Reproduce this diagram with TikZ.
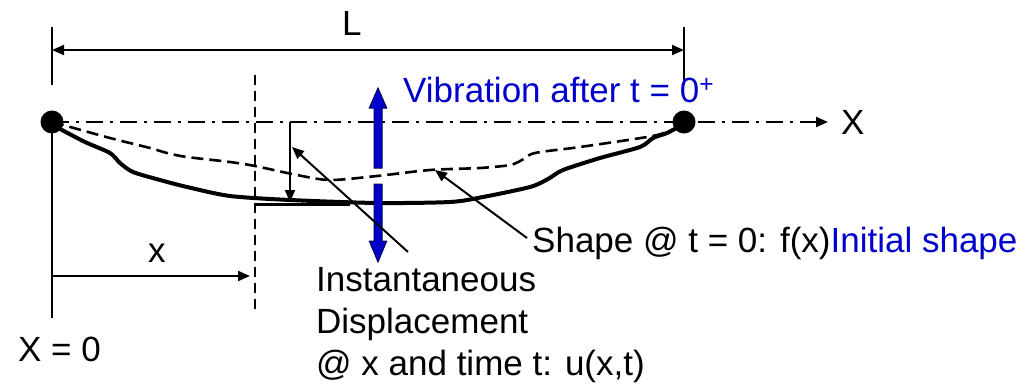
\documentclass[tikz,border=0pt]{standalone}
\usepackage{fontspec}
\setmainfont{Liberation Sans}
\usetikzlibrary{arrows.meta}
\definecolor{vblue}{RGB}{0,0,204}
\definecolor{vnavy}{RGB}{0,0,90}
\begin{document}
\begin{tikzpicture}[x=1pt,y=-1pt,
  lbl/.style={font=\fontsize{35}{42}\selectfont, inner sep=0pt, anchor=base west},
  tipend/.style={-{Triangle[length=12pt,width=10pt]}},
  tipboth/.style={{Triangle[length=12pt,width=10pt]}-{Triangle[length=12pt,width=10pt]}},
  thinline/.style={line width=2pt},
  dashdotline/.style={line width=2.2pt, dash pattern=on 17pt off 7pt on 3pt off 7pt},
  dashline/.style={line width=2.6pt, dash pattern=on 10pt off 6pt},
  curvedash/.style={line width=2.6pt, dash pattern=on 12pt off 6pt},
  solidcurve/.style={line width=4pt, line join=round, line cap=round},
  dotnode/.style={circle, fill=black, minimum size=23pt, inner sep=0pt},
  bluearrow/.style={fill=vblue, draw=vnavy, line width=1pt}]
\useasboundingbox (0,0) rectangle (1036,383);

% named coordinates
\coordinate (A) at (52,122);
\coordinate (B) at (684,122);
\coordinate (Ltop) at (52,27);
\coordinate (Lbot) at (52,85);
\coordinate (Rtop) at (684,27);
\coordinate (Rbot) at (684,85);
\coordinate (LdimL) at (52,50);
\coordinate (LdimR) at (684,50);
\coordinate (Aend) at (52,318);
\coordinate (axisend) at (828,122);
\coordinate (xv1) at (255,75);
\coordinate (xv2) at (255,313);
\coordinate (xd1) at (52,276);
\coordinate (xd2) at (250,276);
\coordinate (u1) at (290,122);
\coordinate (u2) at (290,202);
\coordinate (sh1) at (527,238);
\coordinate (sh2) at (435,170);
\coordinate (in1) at (408,252);
\coordinate (in2) at (292,147);

% dimension L
\draw[thinline] (Ltop) -- (Lbot);
\draw[thinline] (Rtop) -- (Rbot);
\draw[thinline, tipboth] (LdimL) -- (LdimR);
\node[lbl] (Llbl) at (342,35) {L};

% axis
\draw[dashdotline, tipend] (A) -- (axisend);
\node[lbl] (Xlbl) at (841,134) {X};

% left vertical line and x dimension
\draw[thinline] (A) -- (Aend);
\draw[dashline] (xv1) -- (xv2);
\draw[thinline, tipend] (xd1) -- (xd2);
\node[lbl] (xlbl) at (148,262) {x};
\node[lbl] (X0) at (18,361) {X = 0};

% initial shape (dashed)
\draw[curvedash] plot[smooth, tension=0.5] coordinates {(52,122) (63,125) (110,138) (150,148) (167,153) (187,157) (230,162) (255,166) (297,175) (330,180) (377,176) (430,170) (480,168) (510,165) (522,160) (535,153) (580,147) (647,137) (667,132) (684,124)};

% instantaneous shape (solid)
\draw[solidcurve] plot[smooth, tension=0.45] coordinates {(52,124) (62,130) (85,142) (110,153) (120,163) (133,172) (160,180) (187,187) (230,196) (290,200) (377,203) (450,202) (483,197) (530,187) (548,179) (563,170) (600,158) (640,147) (653,138) (667,133) (684,124)};
\draw[line width=3pt] (255,204) -- (350,204);

% displacement arrow
\draw[thinline, tipend] (u1) -- (u2);

% dots
\node[dotnode] (dotA) at (A) {};
\node[dotnode] (dotB) at (B) {};

% blue vibration arrows
\draw[bluearrow] (374,168) -- (374,108) -- (369.3,108) -- (378,88) -- (386.7,108) -- (382,108) -- (382,168) -- cycle;
\draw[bluearrow] (374,184) -- (374,241) -- (369.3,241) -- (378,262) -- (386.7,241) -- (382,241) -- (382,184) -- cycle;
\node[lbl, text=vblue] (vib) at (403,102) {Vibration after t = 0\textsuperscript{+}};

% pointer lines
\draw[thinline, tipend] (sh1) -- (sh2);
\draw[thinline, tipend] (in1) -- (in2);

% labels
\node[lbl] (shape) at (532,252) {Shape @ t = 0: f(x)\textcolor{vblue}{Initial shape}};
\node[lbl] (inst1) at (316,291) {Instantaneous};
\node[lbl] (inst2) at (316,333) {Displacement};
\node[lbl] (inst3) at (316,375) {@ x and time t: u(x,t)};
\end{tikzpicture}
\end{document}
